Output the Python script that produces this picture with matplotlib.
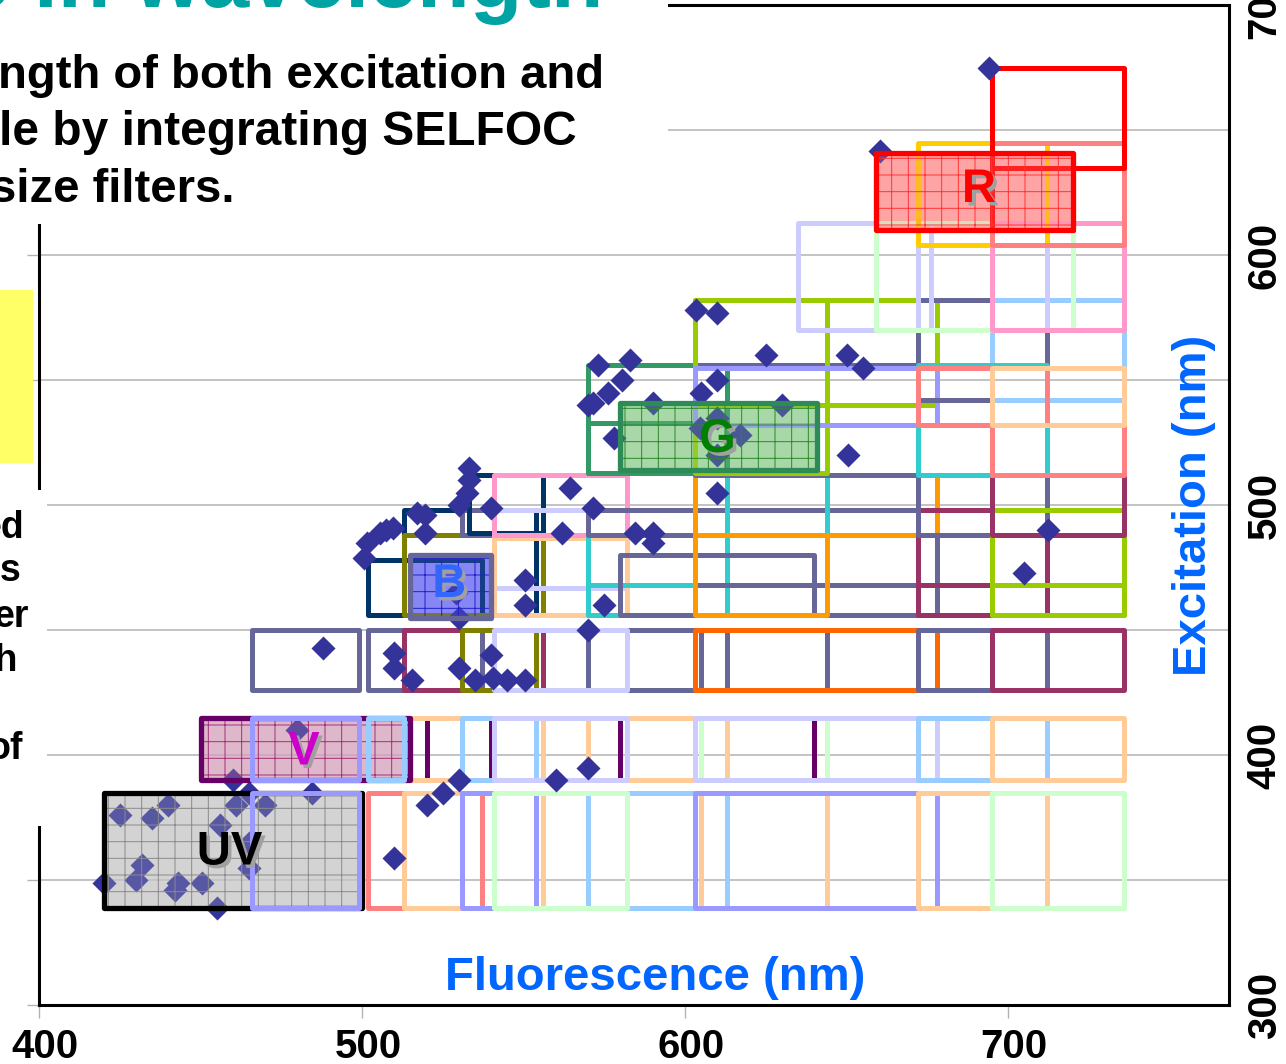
import matplotlib
matplotlib.use("Agg")
import matplotlib.pyplot as plt
import matplotlib.patheffects as pe
import matplotlib.transforms as mtransforms
from matplotlib.patches import Rectangle

plt.rcParams['font.family'] = ['Liberation Sans', 'DejaVu Sans']
plt.rcParams['font.weight'] = 'bold'
plt.rcParams['hatch.linewidth'] = 0.7

W, H = 1286, 1064

# colour of each filter set
FILTER_COLORS = {
    'peri': '#9999ff', 'salmon': '#ff8080', 'peach': '#ffcc99', 'lgreen': '#ccffcc',
    'lblue': '#99ccff', 'lav': '#ccccff', 'plum': '#660066', 'slate': '#666699',
    'maroon': '#993366', 'olive': '#808000', 'vermil': '#ff6600', 'orange': '#ff9900',
    'navy': '#003366', 'cyan': '#33cccc', 'pink': '#ff99cc', 'sea': '#339966',
    'lime': '#99cc00', 'gold': '#ffcc00', 'red': '#ff0000',
}

# filter boxes: (set, emission lo, emission hi, excitation lo, excitation hi) in nm
uv_row = [
    ('salmon', 502, 537, 339, 385), ('peach', 513, 556, 339, 385),
    ('peri', 531, 554, 339, 385), ('lblue', 570, 613, 339, 385),
    ('lgreen', 541, 582, 339, 385), ('peach', 605, 644, 339, 385),
    ('peri', 603, 678, 339, 385), ('peach', 672, 712, 339, 385),
    ('lgreen', 695, 736, 339, 385),
]
v_row = [
    ('plum', 520, 580, 390, 415), ('plum', 540, 640, 390, 415),
    ('peach', 513, 556, 390, 415), ('lblue', 531, 554, 390, 415),
    ('peach', 570, 613, 390, 415), ('lav', 541, 582, 390, 415),
    ('lgreen', 605, 644, 390, 415), ('lav', 603, 678, 390, 415),
    ('lblue', 672, 712, 390, 415), ('peach', 695, 736, 390, 415),
]
row_450 = [
    ('slate', 466, 499, 426, 450), ('slate', 502, 537, 426, 450),
    ('maroon', 513, 556, 426, 450), ('olive', 531, 554, 426, 450),
    ('slate', 570, 613, 426, 450), ('lav', 541, 582, 426, 450),
    ('slate', 605, 644, 426, 450), ('vermil', 603, 678, 426, 450),
    ('slate', 672, 712, 426, 450), ('maroon', 695, 736, 426, 450),
]
blue_rows = [
    ('navy', 502, 537, 456, 478), ('navy', 513, 554, 456, 498),
    ('olive', 513, 556, 456, 488), ('slate', 531, 541, 488, 498),
    ('navy', 533, 556, 489, 512), ('lav', 541, 582, 467, 498),
    ('peach', 541, 582, 456, 487), ('pink', 541, 582, 488, 512),
    ('cyan', 570, 613, 456, 498), ('cyan', 570, 613, 456, 468),
    ('slate', 580, 640, 456, 480), ('slate', 570, 678, 488, 498),
    ('cyan', 613, 644, 488, 512), ('slate', 603, 678, 456, 488),
    ('slate', 603, 678, 456, 468), ('orange', 603, 644, 456, 488),
    ('orange', 603, 678, 488, 512), ('maroon', 672, 712, 456, 498),
    ('maroon', 672, 712, 456, 468), ('slate', 672, 712, 488, 512),
    ('lime', 695, 736, 456, 498), ('lime', 695, 736, 456, 468),
    ('maroon', 695, 736, 488, 512),
]
green_rows = [
    ('sea', 570, 613, 513, 556), ('sea', 570, 613, 513, 533),
    ('slate', 603, 672, 512, 556), ('lime', 603, 644, 513, 582),
    ('lime', 603, 678, 540, 582), ('peri', 603, 678, 532, 555),
    ('slate', 672, 712, 542, 582), ('lblue', 695, 736, 542, 582),
    ('cyan', 672, 712, 512, 556), ('salmon', 672, 712, 532, 555),
    ('salmon', 695, 736, 512, 532), ('peach', 695, 736, 532, 555),
]
red_rows = [
    ('lav', 635, 676, 570, 613), ('lav', 672, 712, 570, 613),
    ('lgreen', 659, 720, 570, 613), ('pink', 695, 736, 570, 613),
    ('gold', 672, 712, 604, 645), ('salmon', 695, 736, 604, 645),
    ('red', 695, 736, 635, 675), ('red', 695, 720, 610, 635),
]
# boxes lying on top of the highlighted UV / V sets
upper_rows = [
    ('peri', 466, 499, 339, 385), ('peri', 466, 499, 390, 415),
    ('lblue', 502, 513, 390, 415),
]

# highlighted filter sets
hl_names = ['UV', 'V', 'B', 'G', 'R']
hl_em = [(420, 500), (450, 515), (515, 540), (580, 641), (659, 720)]
hl_ex = [(339, 385), (390, 415), (455, 480), (514, 541), (610, 641)]
hl_label_em = [459, 482, 527, 610, 691]
hl_label_ex = [361, 401, 468, 526, 626]
HL_STYLE = {
    'UV': dict(edge='#000000', face='#c5c5c5', grid='#8a8a8a', text='#000000'),
    'V': dict(edge='#660066', face='#d59fba', grid='#a0307a', text='#cc00cc'),
    'B': dict(edge='#666699', face='#5c5cf2', grid='#2020cc', text='#3366ff'),
    'G': dict(edge='#2e8b57', face='#8acb8a', grid='#2a8a2a', text='#008000'),
    'R': dict(edge='#ff0000', face='#ff8585', grid='#ff3333', text='#ff0000'),
}

# fluorophore peaks (emission, excitation) in nm
uv_dye_em = [420, 425, 430, 432, 435, 440, 442, 443, 450.5, 455, 456, 460, 461,
             465, 470, 465, 465, 480, 484.5, 510, 520, 525, 530, 560, 570, 488]
uv_dye_ex = [349, 376, 350, 356, 375, 380, 346, 349, 349, 339, 372, 390, 380,
             385, 380, 365, 355, 410, 385, 359, 380, 385, 390, 390, 395, 443]
b_dye_em = [533, 533, 532.5, 530, 540, 517, 519.5, 519.5, 509.5, 505.5, 501.5,
            500.5, 507.5, 564.5, 571.5, 562, 584.5, 590, 590, 550.5, 550.5, 575,
            530, 570, 510, 510, 515.5, 530, 540, 535, 540.5, 545, 550.5, 529]
b_dye_ex = [515, 510, 505, 500, 499, 497, 496, 489, 491, 489, 485,
            479, 490, 507, 499, 489, 489, 489, 485, 470, 460, 460,
            455, 450, 441, 435, 430, 435, 440, 430, 431, 430, 430, 465]
g_dye_em = [603.5, 610, 573, 583, 580.5, 576, 571.5, 570, 625, 650, 655, 610,
            605, 590, 630, 578, 610, 604.5, 617, 610, 650.5, 610]
g_dye_ex = [578, 577, 556, 558, 550, 545, 541, 540, 560, 560, 555, 550,
            545, 541, 540, 527, 535, 531, 528, 520, 520, 505]
r_dye_em = [712.5, 705, 694, 660.5]
r_dye_ex = [490, 473, 675, 641.5]


def fx(px):
    return px / W


def fy(py):
    return 1 - py / H


def draw_box(ax, rec, z=2, lw=3.6):
    name, e0, e1, x0, x1 = rec
    ax.add_patch(Rectangle((e0, x0), e1 - e0, x1 - x0, fill=False,
                           ec=FILTER_COLORS[name], lw=lw,
                           joinstyle='round', zorder=z))


fig = plt.figure(figsize=(W / 100, H / 100), dpi=100)
ax = fig.add_axes([fx(39), fy(1005), (1229 - 39) / W, 1000 / H])
ax.set_xlim(400, 768.4)
ax.set_ylim(300, 700)

for row in (uv_row, v_row, row_450, blue_rows, green_rows, red_rows):
    for rec in row:
        draw_box(ax, rec)

# highlighted sets: fill under the dyes, tint + grid over them
for name, (e0, e1), (x0, x1) in zip(hl_names, hl_em, hl_ex):
    st = HL_STYLE[name]
    xy, w, h = (e0, x0), e1 - e0, x1 - x0
    ax.add_patch(Rectangle(xy, w, h, fc=st['face'], ec='none', alpha=0.65, zorder=1.5))
    ax.add_patch(Rectangle(xy, w, h, fc=st['face'], ec='none', alpha=0.25, zorder=4.5))
    ax.add_patch(Rectangle(xy, w, h, fill=False, hatch='+', ec=st['grid'], lw=0,
                           zorder=4.6))
    ax.add_patch(Rectangle(xy, w, h, fill=False, ec=st['edge'], lw=3.8,
                           joinstyle='round', zorder=5))

for rec in upper_rows:
    draw_box(ax, rec, z=5.5)

for em, ex in ((uv_dye_em, uv_dye_ex), (b_dye_em, b_dye_ex),
               (g_dye_em, g_dye_ex), (r_dye_em, r_dye_ex)):
    ax.scatter(em, ex, marker='D', s=150, color='#333399', linewidths=0, zorder=4)

shadow = [pe.SimplePatchShadow(offset=(2.5, -2.5), shadow_rgbFace='#a0a0a0', alpha=1),
          pe.Normal()]
for name, lx, ly in zip(hl_names, hl_label_em, hl_label_ex):
    ax.text(lx, ly, name, ha='center', va='center', fontsize=34,
            color=HL_STYLE[name]['text'], path_effects=shadow, zorder=7)

# axes, ticks, grid
ax.set_xticks([400, 500, 600, 700])
ax.set_yticks([300, 400, 500, 600, 700])
ax.set_yticks([350, 450, 550, 650], minor=True)
ax.grid(axis='y', which='both', color='#b3b3b3', lw=1.1)
ax.set_axisbelow(True)
ax.tick_params(axis='x', direction='out', length=9, width=1, color='#b3b3b3',
               labelsize=29, pad=7.5)
ax.tick_params(axis='y', which='both', left=True, right=False, labelleft=False,
               labelright=True, length=9, width=1, color='#b3b3b3', pad=3,
               labelsize=29, labelrotation=90)
for lbl in ax.get_yticklabels():
    lbl.set_verticalalignment('center')
shift = mtransforms.ScaledTranslation(6 / 100, 0, fig.dpi_scale_trans)
for lbl in ax.get_xticklabels():
    lbl.set_transform(lbl.get_transform() + shift)
for sp in ax.spines.values():
    sp.set_linewidth(2.2)
    sp.set_zorder(8)

ax.text(0.5176, 0.027, 'Fluorescence (nm)', transform=ax.transAxes, ha='center',
        va='center', fontsize=34, color='#0066ff', zorder=7)
ax.text(0.971, 0.5, 'Excitation (nm)', transform=ax.transAxes, ha='center',
        va='center', rotation=90, fontsize=34, color='#0066ff', zorder=7)

# slide text boxes lying over the chart
fig.add_artist(Rectangle((0, fy(224)), fx(668), 224 / H, transform=fig.transFigure,
                         fc='white', ec='none', zorder=20))
fig.add_artist(Rectangle((0, fy(826)), fx(47), (826 - 490) / H,
                         transform=fig.transFigure, fc='white', ec='none', zorder=20))
fig.add_artist(Rectangle((0, fy(463)), fx(33), (463 - 290) / H,
                         transform=fig.transFigure, fc='#ffff66', ec='none', zorder=20))

fig.text(fx(603), fy(7), 'e in wavelength', ha='right', va='baseline', fontsize=62,
         color='#00a3a3', zorder=21)
fig.text(fx(-2), fy(88), 'ngth of both excitation and', ha='left', va='baseline',
         fontsize=34, zorder=21)
fig.text(fx(-1), fy(145), 'le by integrating SELFOC', ha='left', va='baseline',
         fontsize=34.5, zorder=21)
fig.text(fx(-10), fy(202), 'size filters.', ha='left', va='baseline',
         fontsize=34, zorder=21)

for s, rx, by in (('ed', 24, 538), ('ns', 21, 581), ('er', 29, 627),
                  ('th', 18, 671), ('of', 23, 759)):
    fig.text(fx(rx), fy(by), s, ha='right', va='baseline', fontsize=27, zorder=21)

fig.savefig('out.png', dpi=100)
